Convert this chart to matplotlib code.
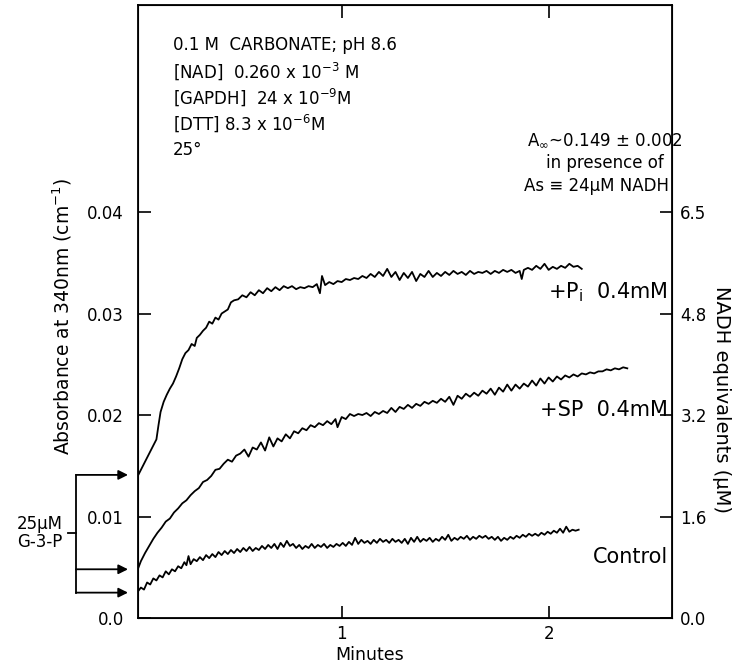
import matplotlib
matplotlib.use("Agg")
import matplotlib.pyplot as plt
import matplotlib.transforms as mtransforms

plt.rcParams['font.family'] = ['DejaVu Sans']
plt.rcParams['mathtext.fontset'] = 'dejavusans'

# ---------------- data ----------------
pi_t = [0.015, 0.04, 0.065, 0.09, 0.105, 0.115, 0.125, 0.14, 0.155, 0.17, 0.185, 0.20, 0.215, 0.23,
        0.245, 0.26, 0.275, 0.29, 0.30, 0.315, 0.33, 0.345, 0.36, 0.375, 0.39, 0.405, 0.42, 0.435,
        0.45, 0.465, 0.48, 0.50, 0.52, 0.54, 0.56, 0.58, 0.60, 0.62, 0.64, 0.66, 0.68, 0.70, 0.72,
        0.74, 0.76, 0.78, 0.80, 0.82, 0.84, 0.86, 0.88, 0.895, 0.905, 0.92, 0.94, 0.96, 0.98, 1.00,
        1.02, 1.04, 1.06, 1.08, 1.10, 1.12, 1.14, 1.16, 1.18, 1.20, 1.22, 1.24, 1.26, 1.28, 1.30,
        1.32, 1.34, 1.36, 1.38, 1.40, 1.42, 1.44, 1.46, 1.48, 1.50, 1.52, 1.54, 1.56, 1.58, 1.60,
        1.62, 1.64, 1.66, 1.68, 1.70, 1.72, 1.74, 1.76, 1.78, 1.80, 1.82, 1.84, 1.86, 1.87, 1.88,
        1.90, 1.92, 1.94, 1.96, 1.98, 2.00, 2.02, 2.04, 2.06, 2.08, 2.10, 2.12, 2.14, 2.16]
pi_v = [0.0140, 0.0150, 0.0160, 0.0170, 0.0176, 0.0190, 0.0203, 0.0213, 0.0220, 0.0226, 0.0231,
        0.0238, 0.0246, 0.0255, 0.0261, 0.0264, 0.0270, 0.0268, 0.0276, 0.0279, 0.0283, 0.0286,
        0.0292, 0.0290, 0.0296, 0.0294, 0.0300, 0.0302, 0.0304, 0.0311, 0.0313, 0.0314, 0.0318,
        0.0316, 0.0321, 0.0318, 0.0323, 0.0320, 0.0325, 0.0322, 0.0326, 0.0323, 0.0327, 0.0325,
        0.0327, 0.0324, 0.0326, 0.0325, 0.0327, 0.0326, 0.0329, 0.0320, 0.0337, 0.0328, 0.0331,
        0.0329, 0.0332, 0.0331, 0.0334, 0.0333, 0.0335, 0.0334, 0.0337, 0.0335, 0.0339, 0.0336,
        0.0341, 0.0337, 0.0344, 0.0336, 0.0341, 0.0333, 0.0340, 0.0335, 0.0341, 0.0332, 0.0339,
        0.0336, 0.0342, 0.0336, 0.0340, 0.0337, 0.0341, 0.0338, 0.0342, 0.0339, 0.0341, 0.0338,
        0.0342, 0.0339, 0.0341, 0.0340, 0.0342, 0.0339, 0.0342, 0.0340, 0.0343, 0.0341, 0.0343,
        0.0340, 0.0342, 0.0334, 0.0343, 0.0345, 0.0343, 0.0347, 0.0344, 0.0349, 0.0343, 0.0346,
        0.0344, 0.0347, 0.0345, 0.0349, 0.0346, 0.0347, 0.0344]

sp_t = [0.015, 0.03, 0.05, 0.07, 0.09, 0.11, 0.13, 0.15, 0.17, 0.19, 0.21, 0.23, 0.25, 0.27, 0.29,
        0.31, 0.33, 0.35, 0.37, 0.39, 0.41, 0.43, 0.45, 0.47, 0.49, 0.51, 0.53, 0.55, 0.57, 0.59,
        0.61, 0.63, 0.65, 0.67, 0.69, 0.71, 0.73, 0.75, 0.77, 0.79, 0.81, 0.83, 0.85, 0.87, 0.89,
        0.91, 0.93, 0.95, 0.97, 0.98, 1.00, 1.02, 1.04, 1.06, 1.08, 1.10, 1.12, 1.14, 1.16, 1.18,
        1.20, 1.22, 1.24, 1.26, 1.28, 1.30, 1.32, 1.34, 1.36, 1.38, 1.40, 1.42, 1.44, 1.46, 1.48,
        1.50, 1.52, 1.54, 1.56, 1.58, 1.60, 1.62, 1.64, 1.66, 1.68, 1.70, 1.72, 1.74, 1.76, 1.78,
        1.80, 1.82, 1.84, 1.86, 1.88, 1.90, 1.92, 1.94, 1.96, 1.98, 2.00, 2.02, 2.04, 2.06, 2.08,
        2.10, 2.12, 2.14, 2.16, 2.18, 2.20, 2.22, 2.24, 2.26, 2.28, 2.30, 2.32, 2.34, 2.36, 2.38]
sp_v = [0.0048, 0.0056, 0.0064, 0.0071, 0.0078, 0.0084, 0.0089, 0.0095, 0.0098, 0.0104, 0.0108,
        0.0113, 0.0116, 0.0121, 0.0125, 0.0128, 0.0134, 0.0136, 0.0140, 0.0146, 0.0147, 0.0152,
        0.0156, 0.0154, 0.0160, 0.0162, 0.0166, 0.0159, 0.0168, 0.0166, 0.0173, 0.0165, 0.0178,
        0.0169, 0.0177, 0.0174, 0.0181, 0.0177, 0.0184, 0.0182, 0.0187, 0.0185, 0.0190, 0.0188,
        0.0192, 0.0190, 0.0194, 0.0191, 0.0196, 0.0188, 0.0198, 0.0196, 0.0201, 0.0199, 0.0201,
        0.0200, 0.0202, 0.0199, 0.0203, 0.0201, 0.0204, 0.0202, 0.0207, 0.0203, 0.0208, 0.0206,
        0.0210, 0.0207, 0.0211, 0.0209, 0.0213, 0.0211, 0.0214, 0.0212, 0.0216, 0.0213, 0.0218,
        0.0210, 0.0219, 0.0216, 0.0221, 0.0218, 0.0222, 0.0219, 0.0224, 0.0221, 0.0226, 0.0220,
        0.0227, 0.0223, 0.0230, 0.0224, 0.0230, 0.0226, 0.0231, 0.0228, 0.0234, 0.0229, 0.0236,
        0.0231, 0.0237, 0.0233, 0.0238, 0.0235, 0.0239, 0.0237, 0.0240, 0.0238, 0.0241, 0.0240,
        0.0242, 0.0241, 0.0243, 0.0243, 0.0245, 0.0244, 0.0246, 0.0245, 0.0247, 0.0246]

ctl_t = [0.015, 0.03, 0.045, 0.06, 0.075, 0.09, 0.105, 0.12, 0.135, 0.15, 0.165, 0.18, 0.195, 0.21,
         0.225, 0.24, 0.25, 0.26, 0.27, 0.285, 0.30, 0.315, 0.33, 0.345, 0.36, 0.375, 0.39, 0.405,
         0.42, 0.435, 0.45, 0.465, 0.48, 0.495, 0.51, 0.525, 0.54, 0.555, 0.57, 0.585, 0.60, 0.615,
         0.63, 0.645, 0.66, 0.675, 0.69, 0.705, 0.72, 0.735, 0.75, 0.765, 0.78, 0.795, 0.81, 0.825,
         0.84, 0.855, 0.87, 0.885, 0.90, 0.915, 0.93, 0.945, 0.96, 0.975, 0.99, 1.005, 1.02, 1.035,
         1.05, 1.065, 1.08, 1.095, 1.11, 1.125, 1.14, 1.155, 1.17, 1.185, 1.20, 1.215, 1.23, 1.245,
         1.26, 1.275, 1.29, 1.305, 1.32, 1.335, 1.35, 1.365, 1.38, 1.395, 1.41, 1.425, 1.44, 1.455,
         1.47, 1.485, 1.50, 1.515, 1.53, 1.545, 1.56, 1.575, 1.59, 1.605, 1.62, 1.635, 1.65, 1.665,
         1.68, 1.695, 1.71, 1.725, 1.74, 1.755, 1.77, 1.785, 1.80, 1.815, 1.83, 1.845, 1.86, 1.875,
         1.89, 1.905, 1.92, 1.935, 1.95, 1.965, 1.98, 1.995, 2.01, 2.025, 2.04, 2.055, 2.07, 2.085,
         2.10, 2.115, 2.13, 2.145]
ctl_v = [0.0026, 0.0030, 0.0028, 0.0035, 0.0033, 0.0039, 0.0037, 0.0042, 0.0040, 0.0046, 0.0043,
         0.0048, 0.0046, 0.0051, 0.0049, 0.0055, 0.0052, 0.0061, 0.0053, 0.0058, 0.0056, 0.0060,
         0.0057, 0.0062, 0.0059, 0.0063, 0.0060, 0.0065, 0.0062, 0.0066, 0.0063, 0.0067, 0.0064,
         0.0068, 0.0065, 0.0069, 0.0066, 0.0070, 0.0066, 0.0069, 0.0067, 0.0071, 0.0068, 0.0072,
         0.0069, 0.0073, 0.0068, 0.0074, 0.0070, 0.0076, 0.0071, 0.0073, 0.0069, 0.0072, 0.0068,
         0.0071, 0.0069, 0.0073, 0.0069, 0.0072, 0.0070, 0.0073, 0.0069, 0.0072, 0.0070, 0.0073,
         0.0071, 0.0074, 0.0071, 0.0075, 0.0072, 0.0079, 0.0073, 0.0077, 0.0074, 0.0076, 0.0073,
         0.0077, 0.0074, 0.0078, 0.0075, 0.0077, 0.0074, 0.0078, 0.0075, 0.0077, 0.0074, 0.0078,
         0.0073, 0.0079, 0.0075, 0.0080, 0.0075, 0.0078, 0.0076, 0.0079, 0.0075, 0.0078, 0.0076,
         0.0080, 0.0077, 0.0082, 0.0076, 0.0079, 0.0077, 0.0080, 0.0078, 0.0081, 0.0077, 0.0080,
         0.0078, 0.0081, 0.0079, 0.0081, 0.0078, 0.0080, 0.0077, 0.0080, 0.0076, 0.0079, 0.0077,
         0.0080, 0.0078, 0.0081, 0.0079, 0.0082, 0.0080, 0.0083, 0.0081, 0.0083, 0.0081, 0.0084,
         0.0082, 0.0085, 0.0083, 0.0086, 0.0084, 0.0088, 0.0084, 0.0090, 0.0085, 0.0087, 0.0086,
         0.0087]

left_ticks = [0.0, 0.01, 0.02, 0.03, 0.04]
left_labels = ["0.0", "0.01", "0.02", "0.03", "0.04"]
right_labels = ["0.0", "1.6", "3.2", "4.8", "6.5"]
x_ticks = [1, 2]
x_labels = ["1", "2"]
g3p_levels = [0.0141, 0.0048, 0.0025]   # starting absorbances indicated by the arrows

conditions = ["0.1 M  CARBONATE; pH 8.6",
              "[NAD]  0.260 x 10$^{-3}$ M",
              "[GAPDH]  24 x 10$^{-9}$M",
              "[DTT] 8.3 x 10$^{-6}$M",
              "25°"]
a_inf_lines = ["A$_{\\infty}$~0.149 ± 0.002", "in presence of", "As ≡ 24μM NADH"]

# ---------------- figure ----------------
W, H = 735, 665
fig = plt.figure(figsize=(W / 100, H / 100), dpi=100)
L, R, B, T = 138, 672, 618, 5
ax = fig.add_axes([L / W, (H - B) / H, (R - L) / W, (B - T) / H])

lw = 1.3
ax.plot(pi_t, pi_v, color="black", lw=lw)
ax.plot(sp_t, sp_v, color="black", lw=lw)
ax.plot(ctl_t, ctl_v, color="black", lw=lw)

ax.set_xlim(0.016, 2.596)
ax.set_ylim(0, 0.0604)

for s in ax.spines.values():
    s.set_linewidth(1.3)

ax.set_yticks(left_ticks)
ax.set_yticklabels(left_labels)
ax.set_xticks(x_ticks)
ax.set_xticklabels(x_labels)
ax.tick_params(axis="y", direction="in", length=9, width=1.2, labelsize=12, pad=10)
ax.tick_params(axis="x", direction="in", length=9, width=1.2, labelsize=12, pad=5,
               top=True)

ax2 = ax.twinx()
ax2.set_ylim(ax.get_ylim())
ax2.set_yticks(left_ticks)
ax2.set_yticklabels(right_labels)
ax2.tick_params(axis="y", direction="in", length=9, width=1.2, labelsize=12, pad=6)

fig.text(62 / W, 1 - 316 / H, "Absorbance at 340nm (cm$^{-1}$)", fontsize=13.5, rotation=90,
         ha="center", va="center")
fig.text(370 / W, 1 - 655 / H, "Minutes", fontsize=12.5, ha="center", va="center")
fig.text(722 / W, 1 - 400 / H, "NADH equivalents (μM)", fontsize=14, rotation=-90,
         ha="center", va="center")

# condition text block
ys = [45, 71, 97, 123, 150]
for txt, yp in zip(conditions, ys):
    ax.text((173 - L) / (R - L), (B - yp) / (B - T), txt, transform=ax.transAxes,
            fontsize=12, ha="left", va="center")

# A-infinity block
ax.text((527 - L) / (R - L), (B - 140) / (B - T), a_inf_lines[0], transform=ax.transAxes,
        fontsize=12, ha="left", va="center")
ax.text((605 - L) / (R - L), (B - 163) / (B - T), a_inf_lines[1], transform=ax.transAxes,
        fontsize=12, ha="center", va="center")
ax.text((524 - L) / (R - L), (B - 186) / (B - T), a_inf_lines[2], transform=ax.transAxes,
        fontsize=12, ha="left", va="center")

# curve labels
ax.text((668 - L) / (R - L), (B - 292) / (B - T), "+P$_{\\mathrm{i}}$  0.4mM", transform=ax.transAxes,
        fontsize=15, ha="right", va="center")
ax.text((668 - L) / (R - L), (B - 410) / (B - T), "+SP  0.4mM", transform=ax.transAxes,
        fontsize=15, ha="right", va="center")
ax.text((668 - L) / (R - L), (B - 557) / (B - T), "Control", transform=ax.transAxes,
        fontsize=15, ha="right", va="center")

# G-3-P arrows outside the left axis
trans = mtransforms.blended_transform_factory(ax.transAxes, ax.transData)
x_bar = (76 - L) / (R - L)
x_tip = (128 - L) / (R - L)
ax.plot([x_bar, x_bar], [min(g3p_levels), max(g3p_levels)], color="black", lw=1.3,
        transform=trans, clip_on=False)
for lv in g3p_levels:
    ax.annotate("", xy=(x_tip, lv), xytext=(x_bar, lv), xycoords=trans, textcoords=trans,
                arrowprops=dict(arrowstyle="-|>", color="black", lw=1.3,
                                mutation_scale=14, shrinkA=0, shrinkB=0),
                annotation_clip=False)
mid = 0.0084
x_stub = (68 - L) / (R - L)
ax.plot([x_stub, x_bar], [mid, mid], color="black", lw=1.3, transform=trans, clip_on=False)
fig.text(40 / W, 1 - 533 / H, "25μM\nG-3-P", fontsize=12, ha="center", va="center",
         linespacing=1.0)

fig.savefig("out.png", dpi=100)
